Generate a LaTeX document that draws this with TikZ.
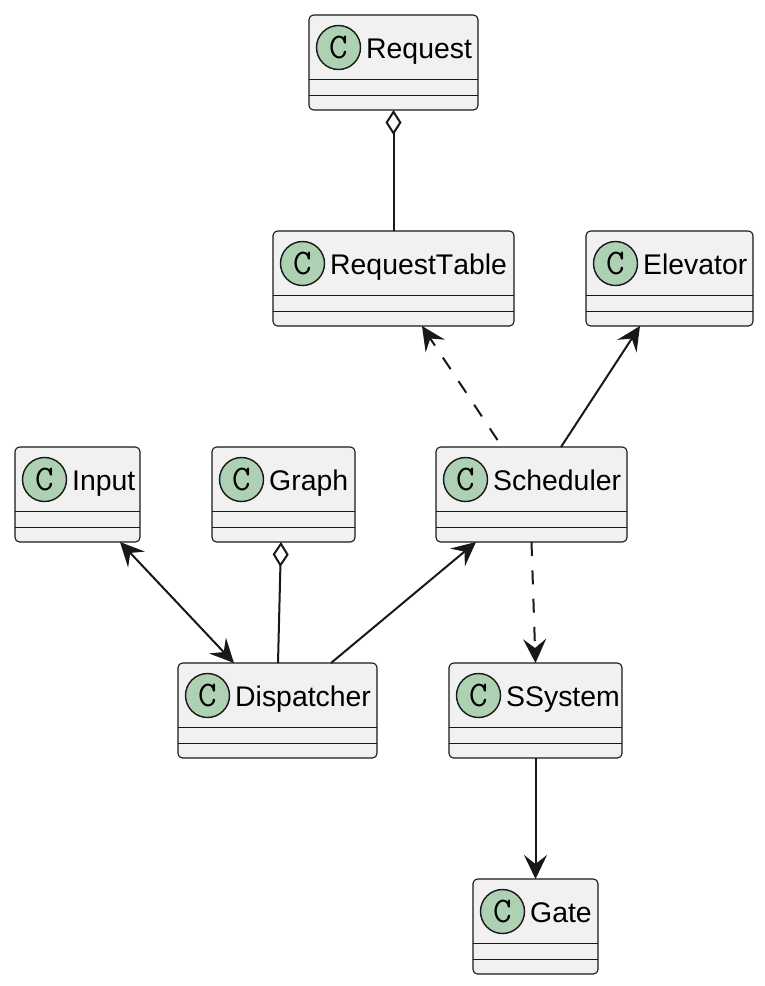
\documentclass[tikz,border=0pt]{standalone}
\usepackage{fontspec}
\setmainfont[Kerning=Off]{Liberation Sans}
\usepackage{xcolor}
\usetikzlibrary{arrows.meta,calc,positioning}
\definecolor{boxfill}{HTML}{F1F1F1}
\definecolor{boxline}{HTML}{181818}
\definecolor{spotfill}{HTML}{ADD1B2}
\tikzset{
  classbox/.style={draw=boxline,fill=boxfill,line width=1.1pt,rounded corners=4.5pt,anchor=north west,minimum height=95pt,inner sep=0pt,outer sep=0pt},
  spot/.style={circle,draw=boxline,fill=spotfill,line width=1.4pt,minimum size=44pt,inner sep=0pt,font=\fontsize{36}{36}\selectfont\ttfamily},
  classname/.style={anchor=base west,inner sep=0pt,font=\fontsize{28.4}{34}\selectfont,text=black},
  divider/.style={draw=boxline,line width=0.9pt},
  link/.style={draw=boxline,line width=2pt},
  dep/.style={link,dash pattern=on 14pt off 14.3pt},
  head/.tip={Stealth[length=24pt,width=23pt,inset=9pt,fill=boxline]},
  hollow/.tip={Diamond[open,length=25pt,width=16pt,line width=2pt,fill=white]}
}
% one class: name, left, top, width, label
\newcommand{\classnode}[5]{
  \node[classbox,minimum width=#4pt] (#1) at (#2,#3) {};
  \node[spot] (#1c) at (#2+29.5,#3+32.5) {C};
  \node[classname] (#1t) at (#2+57,#3+43) {#5};
  \draw[divider] ($(#1.north west)+(0,64)$) -- ($(#1.north east)+(0,64)$);
  \draw[divider] ($(#1.north west)+(0,80)$) -- ($(#1.north east)+(0,80)$);
}
\begin{document}
\begin{tikzpicture}[x=1pt,y=-1pt]
\useasboundingbox (0,0) rectangle (765,986);
\classnode{request}{309}{15}{169}{Request}
\classnode{table}{273}{231}{241}{RequestTable}
\classnode{elevator}{586}{231}{167}{Elevator}
\classnode{input}{15}{447}{125}{Input}
\classnode{graph}{212}{447}{143}{Graph}
\classnode{scheduler}{436}{447}{191}{Scheduler}
\classnode{dispatcher}{178}{663}{199}{Dispatcher}
\classnode{ssystem}{449}{663}{173}{SSystem}
\classnode{gate}{473}{879}{125}{Gate}
% aggregations
\draw[link,{hollow}-] (request.south) -- (table.north);
\draw[link,{hollow}-] ($(graph.south)+(-2.5,0)$) -- ($(dispatcher.north)+(0.5,0)$);
% plain associations
\draw[link,{head}-] ($(elevator.south)+(-29.5,0)$) -- ($(scheduler.north)+(29.5,0)$);
\draw[link,{head}-{head}] ($(input.south)+(42.5,0)$) -- ($(dispatcher.north)+(-43.5,0)$);
\draw[link,{head}-] ($(scheduler.south)+(-55.5,0)$) -- ($(dispatcher.north)+(53.5,0)$);
\draw[link,-{head}] (ssystem.south) -- (gate.north);
% dependencies
\draw[dep,-{head}] ($(scheduler.north)+(-34,-7)$) -- ($(table.south)+(28.5,0)$);
\draw[dep,-{head}] (scheduler.south) -- (ssystem.north);
\end{tikzpicture}
\end{document}
